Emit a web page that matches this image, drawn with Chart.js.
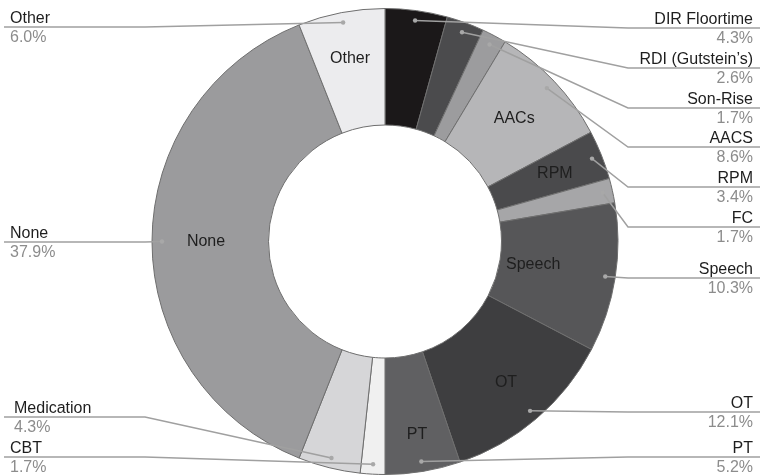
<!DOCTYPE html>
<html>
<head>
<meta charset="utf-8">
<script src="https://cdn.jsdelivr.net/npm/chart.js@4.4.1/dist/chart.umd.min.js"></script>
<style>
  html, body { margin: 0; padding: 0; background: #fff; }
  #wrap { width: 760px; height: 475px; }
</style>
</head>
<body>
<div id="wrap"><canvas id="myChart" width="760" height="475"></canvas></div>
<script>
var categories = ['DIR Floortime', 'RDI (Gutstein\u2019s)', 'Son-Rise', 'AACS', 'RPM', 'FC', 'Speech', 'OT', 'PT', 'CBT', 'Medication', 'None', 'Other'];
var percents = [4.3, 2.6, 1.7, 8.6, 3.4, 1.7, 10.3, 12.1, 5.2, 1.7, 4.3, 37.9, 6.0];
var insideLabels = ['', '', '', 'AACs', 'RPM', '', 'Speech', 'OT', 'PT', '', '', 'None', 'Other'];
var sliceColors = ['#1b1819', '#4b4b4d', '#9c9c9e', '#b6b6b8', '#4a4a4c', '#a6a6a8', '#565658', '#3e3e40', '#606062', '#f0f0f0', '#d6d6d8', '#9b9b9d', '#ececee'];

// callout layout: side and y of the horizontal rule under each name
var calloutSide = ['r', 'r', 'r', 'r', 'r', 'r', 'r', 'r', 'r', 'l', 'l', 'l', 'l'];
var calloutY = [28, 68, 108, 147, 187, 227, 278, 412, 457, 457, 417, 242, 27];
// distance of the inside label from the centre
var insideR = [0, 0, 0, 178, 183, 0, 150, 186, 196, 0, 0, 179, 186];

var callouts = {
    id: 'callouts',
    afterDatasetsDraw: function (chart) {
        var c = chart.ctx;
        var arcs = chart.getDatasetMeta(0).data;
        c.save();
        c.font = '16px "Liberation Sans", Arial, sans-serif';
        arcs.forEach(function (arc, i) {
            var p = arc.getProps(['x', 'y', 'startAngle', 'endAngle', 'innerRadius', 'outerRadius'], true);
            var mid = (p.startAngle + p.endAngle) / 2;
            var r = p.outerRadius - 10;
            var dx = p.x + Math.cos(mid) * r;
            var dy = p.y + Math.sin(mid) * r;
            var ly = calloutY[i];

            // leader line
            c.strokeStyle = '#a0a0a0';
            c.lineWidth = 1.5;
            c.beginPath();
            c.moveTo(dx, dy);
            if (calloutSide[i] === 'r') {
                c.lineTo(628, ly);
                c.lineTo(760, ly);
            } else {
                c.lineTo(145, ly);
                c.lineTo(4, ly);
            }
            c.stroke();

            // dot
            c.fillStyle = '#a8a8a8';
            c.beginPath();
            c.arc(dx, dy, 2.2, 0, Math.PI * 2);
            c.fill();

            // texts
            c.textBaseline = 'alphabetic';
            var tx;
            if (calloutSide[i] === 'r') {
                c.textAlign = 'right';
                tx = 753;
            } else {
                c.textAlign = 'left';
                tx = categories[i] === 'Medication' ? 14 : 10;
            }
            c.fillStyle = '#1e1e1e';
            c.fillText(categories[i], tx, ly - 4);
            c.fillStyle = '#8c8c8c';
            c.fillText(percents[i].toFixed(1) + '%', tx, ly + 15);

            // inside label
            if (insideLabels[i]) {
                c.textAlign = 'center';
                c.textBaseline = 'middle';
                c.fillStyle = '#1e1e1e';
                c.fillText(insideLabels[i], p.x + Math.cos(mid) * insideR[i], p.y + Math.sin(mid) * insideR[i]);
            }
        });
        c.restore();
    }
};

var ctx = document.getElementById('myChart').getContext('2d');
var myChart = new Chart(ctx, {
    type: 'doughnut',
    data: {
        labels: categories,
        datasets: [{
            data: percents,
            backgroundColor: sliceColors,
            borderColor: '#6e6e6e',
            borderWidth: 1
        }]
    },
    options: {
        responsive: false,
        animation: false,
        cutout: '50%',
        layout: { padding: { top: 8, left: 10, right: 0, bottom: 0 } },
        plugins: {
            legend: { display: false },
            tooltip: { enabled: false }
        }
    },
    plugins: [callouts]
});
</script>
</body>
</html>
